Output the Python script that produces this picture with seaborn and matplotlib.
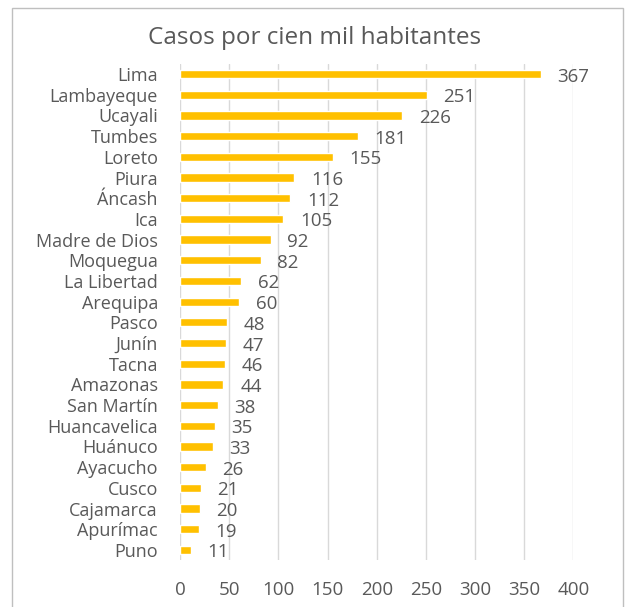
import numpy as np
import pandas as pd
import matplotlib
matplotlib.use("Agg")
import matplotlib.pyplot as plt
import seaborn as sns
from matplotlib.patches import Rectangle

regiones = ["Lima", "Lambayeque", "Ucayali", "Tumbes", "Loreto", "Piura", "Áncash",
            "Ica", "Madre de Dios", "Moquegua", "La Libertad", "Arequipa", "Pasco",
            "Junín", "Tacna", "Amazonas", "San Martín", "Huancavelica", "Huánuco",
            "Ayacucho", "Cusco", "Cajamarca", "Apurímac", "Puno"]
casos = [367, 251, 226, 181, 155, 116, 112, 105, 92, 82, 62, 60, 48,
         47, 46, 44, 38, 35, 33, 26, 21, 20, 19, 11]
xticks = [0, 50, 100, 150, 200, 250, 300, 350, 400]

df = pd.DataFrame({"region": regiones, "casos": casos})

sns.set_theme(style="white")
plt.rcParams['font.family'] = ['Open Sans', 'DejaVu Sans']
gris = "#595959"

fig = plt.figure(figsize=(6.3, 6.07), dpi=100)
ax = fig.add_axes([0.286, 0.077, 0.624, 0.818])

sns.barplot(data=df, x="casos", y="region", color="#FFC000", width=0.4,
            saturation=1, ax=ax, zorder=3)

# etiquetas de valor al final de cada barra
for i, v in enumerate(casos):
    ax.text(v + 17, i + 0.12, str(v), va="center", ha="left", fontsize=13.5, color=gris)

ax.set_xlim(0, 400)
ax.set_ylim(len(regiones) - 0.5, -0.5)
ax.set_xticks(xticks)
ax.set_xticklabels([str(t) for t in xticks], fontsize=13.5, color=gris)
ax.tick_params(axis="x", length=0, pad=15)
ax.tick_params(axis="y", length=0, pad=16, labelsize=13, labelcolor=gris)
ax.set_xlabel("")
ax.set_ylabel("")
ax.grid(axis="x", color="#D9D9D9", linewidth=1, zorder=0)
ax.grid(axis="y", visible=False)
for s in ax.spines.values():
    s.set_visible(False)

fig.text(0.5, 0.937, "Casos por cien mil habitantes", ha="center", va="center",
         fontsize=17.5, color=gris)

# marco del gráfico
fig.patches.append(Rectangle((12 / 630, -0.05), 611 / 630, 1 - 8 / 607 + 0.05,
                             transform=fig.transFigure, fill=False,
                             edgecolor="#BFBFBF", linewidth=1))

fig.savefig("out.png", dpi=100)
